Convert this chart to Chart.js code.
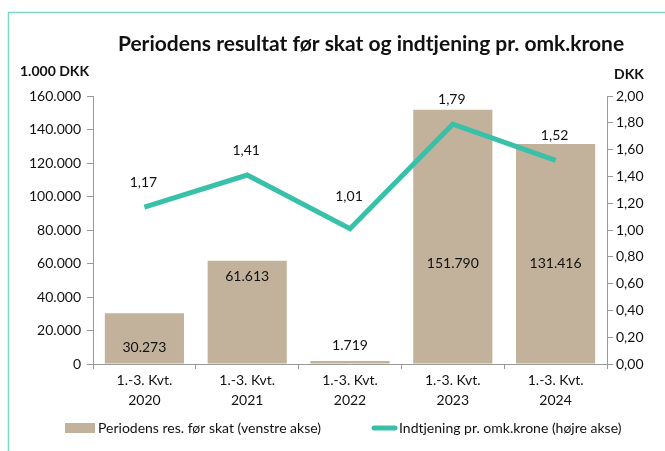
<!DOCTYPE html>
<html>
<head>
<meta charset="utf-8">
<script src="https://cdn.jsdelivr.net/npm/chart.js@4"></script>
<style>
  html, body { margin: 0; padding: 0; background: #fff; }
  #wrap { width: 665px; height: 451px; position: relative; }
</style>
</head>
<body>
<div id="wrap"><canvas id="myChart" width="665" height="451"></canvas></div>
<script>
const FONT = "Lato, 'Open Sans', sans-serif";

const categories = [
  ["1.-3. Kvt.", "2020"],
  ["1.-3. Kvt.", "2021"],
  ["1.-3. Kvt.", "2022"],
  ["1.-3. Kvt.", "2023"],
  ["1.-3. Kvt.", "2024"],
];
const resultat = [30273, 61613, 1719, 151790, 131416];
const indtjening = [1.17, 1.41, 1.01, 1.79, 1.52];
const leftTicks = [0, 20000, 40000, 60000, 80000, 100000, 120000, 140000, 160000];
const rightTicks = [0, 0.2, 0.4, 0.6, 0.8, 1.0, 1.2, 1.4, 1.6, 1.8, 2.0];

const barColor = "#c2b29c";
const lineColor = "#38c0a9";

const fmtThousand = (v) => v.toLocaleString("da-DK");
const fmtDec = (v) => v.toFixed(2).replace(".", ",");

// where the bar value labels sit (in left-axis units); null = above the bar
const barLabelAt = [10000, 52000, null, 60000, 60000];

const decor = {
  id: "decor",
  beforeDraw(chart) {
    const c = chart.ctx;
    c.save();
    c.strokeStyle = "#7dd5c9";
    c.lineWidth = 1.5;
    c.beginPath();
    c.moveTo(8.5, 460);
    c.lineTo(8.5, 12.5);
    c.lineTo(680, 12.5);
    c.stroke();
    c.restore();
  },
  afterDraw(chart) {
    const c = chart.ctx;
    const yScale = chart.scales.y;
    c.save();
    c.fillStyle = "#111";
    c.textBaseline = "middle";
    c.textAlign = "center";
    c.font = "bold 21px " + FONT;
    c.fillText("Periodens resultat før skat og indtjening pr. omk.krone", 371, 44);
    c.font = "bold 14px " + FONT;
    c.textAlign = "left";
    c.fillText("1.000 DKK", 20, 71);
    c.fillText("DKK", 614, 74);

    // bar labels
    c.font = "14px " + FONT;
    c.textAlign = "center";
    resultat.forEach((v, i) => {
      const xPos = chart.scales.x.getPixelForValue(i);
      const ly = barLabelAt[i] === null
        ? yScale.getPixelForValue(v) - 16
        : yScale.getPixelForValue(barLabelAt[i]);
      c.fillText(fmtThousand(v), xPos, ly);
    });
    // line labels
    indtjening.forEach((v, i) => {
      const xPos = chart.scales.x.getPixelForValue(i);
      const py = chart.scales.y1.getPixelForValue(v);
      c.fillText(fmtDec(v), xPos - 1, py - (i === 2 ? 32 : 25));
    });

    // legend
    c.fillStyle = barColor;
    c.fillRect(65, 423, 30, 10);
    c.fillStyle = "#111";
    c.textAlign = "left";
    c.fillText("Periodens res. før skat (venstre akse)", 98, 428);
    c.strokeStyle = lineColor;
    c.lineWidth = 5;
    c.lineCap = "round";
    c.beginPath();
    c.moveTo(374, 428);
    c.lineTo(395, 428);
    c.stroke();
    c.fillText("Indtjening pr. omk.krone (højre akse)", 399, 428);
    c.restore();
  },
};

new Chart(document.getElementById("myChart"), {
  data: {
    labels: categories,
    datasets: [
      {
        type: "bar",
        label: "Periodens res. før skat (venstre akse)",
        data: resultat,
        backgroundColor: barColor,
        yAxisID: "y",
        barPercentage: 0.77,
        categoryPercentage: 1,
        order: 2,
      },
      {
        type: "line",
        label: "Indtjening pr. omk.krone (højre akse)",
        data: indtjening,
        borderColor: lineColor,
        borderWidth: 5,
        pointRadius: 0,
        tension: 0,
        yAxisID: "y1",
        order: 1,
      },
    ],
  },
  options: {
    responsive: false,
    animation: false,
    layout: { padding: { top: 96, left: 0, right: 0, bottom: 0 } },
    plugins: {
      legend: { display: false },
      tooltip: { enabled: false },
    },
    scales: {
      x: {
        afterFit: (s) => { s.height = 451 - 96 - 268; },
        grid: {
          offset: true,
          drawOnChartArea: false,
          tickLength: 5,
          color: "#999",
        },
        border: { color: "#999" },
        ticks: {
          color: "#111",
          font: { family: FONT, size: 14, lineHeight: 1.45 },
          padding: 1,
          maxRotation: 0,
        },
      },
      y: {
        position: "left",
        min: 0,
        max: 160000,
        afterFit: (s) => { s.width = 93; },
        afterBuildTicks: (s) => { s.ticks = leftTicks.map((v) => ({ value: v })); },
        grid: { drawOnChartArea: false, tickLength: 6, color: "#999" },
        border: { color: "#999" },
        ticks: {
          color: "#111",
          font: { family: FONT, size: 14 },
          padding: 6,
          callback: (v) => fmtThousand(v),
        },
      },
      y1: {
        position: "right",
        min: 0,
        max: 2,
        afterFit: (s) => { s.width = 58; },
        afterBuildTicks: (s) => { s.ticks = rightTicks.map((v) => ({ value: v })); },
        grid: { drawOnChartArea: false, tickLength: 6, color: "#999" },
        border: { color: "#999" },
        ticks: {
          color: "#111",
          font: { family: FONT, size: 14 },
          padding: 3,
          callback: (v) => fmtDec(v),
        },
      },
    },
  },
  plugins: [decor],
});
</script>
</body>
</html>
